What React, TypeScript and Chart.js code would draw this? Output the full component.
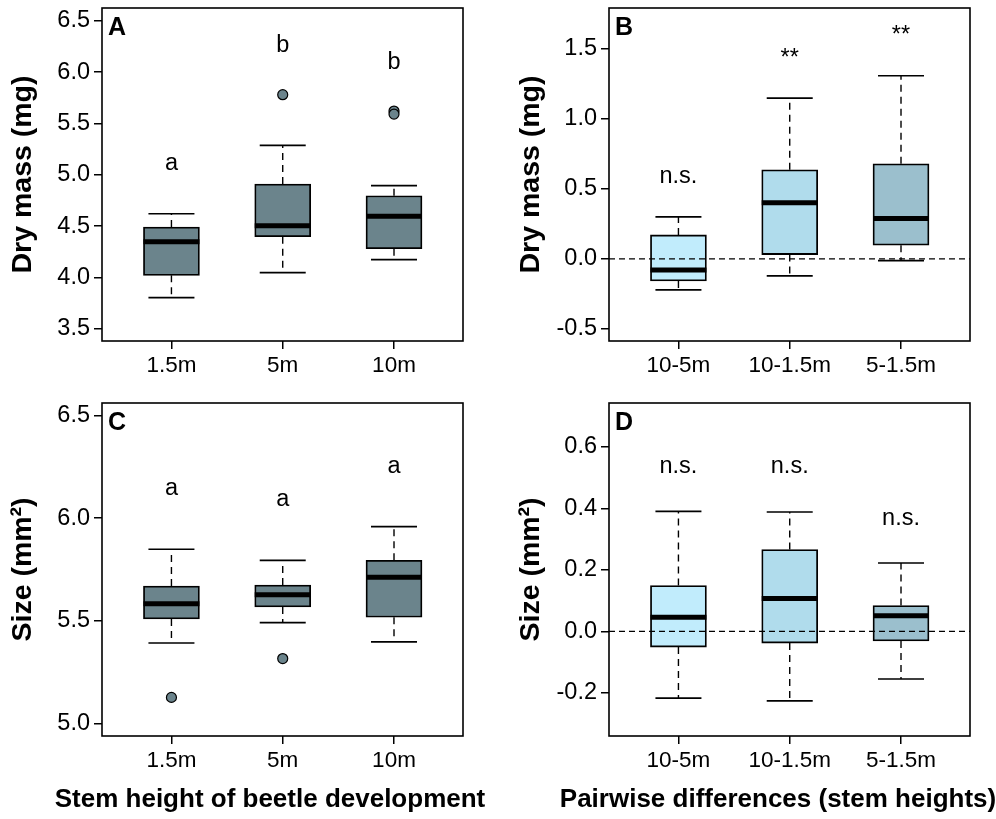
import React, { useEffect, useRef } from 'react';
import { Chart, registerables } from 'chart.js';

Chart.register(...registerables);

const FONT = "'Liberation Sans', Arial, Helvetica, sans-serif";

// ---------- Data ----------
const heightCats = ['1.5m', '5m', '10m'];
const pairCats = ['10-5m', '10-1.5m', '5-1.5m'];

// Panel A: Dry mass (mg)
const aLow = [3.805, 4.048, 4.175];
const aQ1 = [4.022, 4.398, 4.282];
const aMed = [4.350, 4.505, 4.596];
const aQ3 = [4.492, 4.911, 4.797];
const aHigh = [4.622, 5.287, 4.895];
const aOutCat = [2, 3, 3];
const aOutVal = [5.78, 5.621, 5.592];
const aNotes = ['a', 'b', 'b'];
const aNoteY = [5.11, 6.257, 6.091];
const aTicks = [3.5, 4.0, 4.5, 5.0, 5.5, 6.0, 6.5];

// Panel B: pairwise differences dry mass
const bLow = [-0.221, -0.121, -0.012];
const bQ1 = [-0.157, 0.031, 0.098];
const bMed = [-0.079, 0.400, 0.288];
const bQ3 = [0.171, 0.636, 0.679];
const bHigh = [0.300, 1.148, 1.307];
const bNotes = ['n.s.', '**', '**'];
const bNoteY = [0.585, 1.433, 1.595];
const bTicks = [-0.5, 0.0, 0.5, 1.0, 1.5];

// Panel C: Size (mm²)
const cLow = [5.393, 5.492, 5.398];
const cQ1 = [5.510, 5.568, 5.518];
const cMed = [5.584, 5.628, 5.713];
const cQ3 = [5.670, 5.675, 5.795];
const cHigh = [5.849, 5.795, 5.959];
const cOutCat = [1, 2];
const cOutVal = [5.128, 5.317];
const cNotes = ['a', 'a', 'a'];
const cNoteY = [6.146, 6.093, 6.252];
const cTicks = [5.0, 5.5, 6.0, 6.5];

// Panel D: pairwise differences size
const dLow = [-0.217, -0.226, -0.155];
const dQ1 = [-0.051, -0.038, -0.031];
const dMed = [0.046, 0.107, 0.051];
const dQ3 = [0.149, 0.266, 0.084];
const dHigh = [0.390, 0.388, 0.222];
const dNotes = ['n.s.', 'n.s.', 'n.s.'];
const dNoteY = [0.536, 0.536, 0.368];
const dTicks = [-0.2, 0.0, 0.2, 0.4, 0.6];

// ---------- Styles ----------
const GREY = '#6b848c';
const PAIR_FILLS = ['#c1ecfc', '#b0dcec', '#9bbfcd'];
const BOX_W = 56;
const STAPLE_W = 46;

type Panel = {
  letter: string;
  cats: string[];
  lo: number[]; q1: number[]; med: number[]; q3: number[]; hi: number[];
  outCat: number[]; outVal: number[];
  fills: string[];
  notes: string[]; noteY: number[];
  yMin: number; yMax: number; yTicks: number[];
  yTitle: string;
  zeroLine: boolean;
  xTitle?: string;
  xTitleX?: number; xTitleY?: number;
  left: number; top: number; width: number; height: number;
  padTop: number; padRight: number; yAxisW: number; xAxisH: number; titlePad: number;
};

const panels: Panel[] = [
  {
    letter: 'A', cats: heightCats, lo: aLow, q1: aQ1, med: aMed, q3: aQ3, hi: aHigh,
    outCat: aOutCat, outVal: aOutVal, fills: [GREY, GREY, GREY], notes: aNotes, noteY: aNoteY,
    yMin: 3.383, yMax: 6.624, yTicks: aTicks, yTitle: 'Dry mass (mg)', zeroLine: false,
    left: 0, top: 0, width: 498, height: 395, padTop: 8, padRight: 35, yAxisW: 102, xAxisH: 54, titlePad: 6,
  },
  {
    letter: 'B', cats: pairCats, lo: bLow, q1: bQ1, med: bMed, q3: bQ3, hi: bHigh,
    outCat: [], outVal: [], fills: PAIR_FILLS, notes: bNotes, noteY: bNoteY,
    yMin: -0.586, yMax: 1.791, yTicks: bTicks, yTitle: 'Dry mass (mg)', zeroLine: true,
    left: 498, top: 0, width: 498, height: 395, padTop: 8, padRight: 26, yAxisW: 111, xAxisH: 54, titlePad: 16,
  },
  {
    letter: 'C', cats: heightCats, lo: cLow, q1: cQ1, med: cMed, q3: cQ3, hi: cHigh,
    outCat: cOutCat, outVal: cOutVal, fills: [GREY, GREY, GREY], notes: cNotes, noteY: cNoteY,
    yMin: 4.94, yMax: 6.561, yTicks: cTicks, yTitle: 'Size (mm²)', zeroLine: false,
    xTitle: 'Stem height of beetle development', xTitleX: 270, xTitleY: 405,
    left: 0, top: 395, width: 498, height: 424, padTop: 8, padRight: 35, yAxisW: 102, xAxisH: 83, titlePad: 6,
  },
  {
    letter: 'D', cats: pairCats, lo: dLow, q1: dQ1, med: dMed, q3: dQ3, hi: dHigh,
    outCat: [], outVal: [], fills: PAIR_FILLS, notes: dNotes, noteY: dNoteY,
    yMin: -0.340, yMax: 0.742, yTicks: dTicks, yTitle: 'Size (mm²)', zeroLine: true,
    xTitle: 'Pairwise differences (stem heights)', xTitleX: 280, xTitleY: 405,
    left: 498, top: 395, width: 498, height: 424, padTop: 8, padRight: 26, yAxisW: 111, xAxisH: 83, titlePad: 16,
  },
];

function makePlugin(p: Panel) {
  return {
    id: 'boxExtras' + p.letter,
    afterDatasetsDraw(chart: any) {
      const ctx = chart.ctx as CanvasRenderingContext2D;
      const xs = chart.scales.x;
      const ys = chart.scales.y;
      const area = chart.chartArea;
      ctx.save();
      ctx.strokeStyle = '#000';
      for (let i = 0; i < p.cats.length; i++) {
        const x = xs.getPixelForValue(i + 1);
        const yLo = ys.getPixelForValue(p.lo[i]);
        const yQ1 = ys.getPixelForValue(p.q1[i]);
        const yMed = ys.getPixelForValue(p.med[i]);
        const yQ3 = ys.getPixelForValue(p.q3[i]);
        const yHi = ys.getPixelForValue(p.hi[i]);
        // whiskers
        ctx.lineWidth = 1.4;
        ctx.setLineDash([7, 5]);
        ctx.beginPath();
        ctx.moveTo(x, yQ3); ctx.lineTo(x, yHi);
        ctx.moveTo(x, yQ1); ctx.lineTo(x, yLo);
        ctx.stroke();
        // staples
        ctx.setLineDash([]);
        ctx.lineWidth = 1.6;
        ctx.beginPath();
        ctx.moveTo(x - STAPLE_W / 2, yHi); ctx.lineTo(x + STAPLE_W / 2, yHi);
        ctx.moveTo(x - STAPLE_W / 2, yLo); ctx.lineTo(x + STAPLE_W / 2, yLo);
        ctx.stroke();
        // median
        ctx.lineWidth = 5;
        ctx.beginPath();
        ctx.moveTo(x - BOX_W / 2, yMed); ctx.lineTo(x + BOX_W / 2, yMed);
        ctx.stroke();
      }
      if (p.zeroLine) {
        const y0 = ys.getPixelForValue(0);
        ctx.lineWidth = 1.4;
        ctx.setLineDash([6, 4]);
        ctx.beginPath();
        ctx.moveTo(area.left, y0); ctx.lineTo(area.right, y0);
        ctx.stroke();
        ctx.setLineDash([]);
      }
      // frame
      ctx.lineWidth = 1.6;
      ctx.strokeRect(area.left, area.top, area.right - area.left, area.bottom - area.top);
      // notes
      ctx.fillStyle = '#000';
      ctx.textAlign = 'center';
      ctx.textBaseline = 'middle';
      ctx.font = `23.5px ${FONT}`;
      for (let i = 0; i < p.notes.length; i++) {
        ctx.fillText(p.notes[i], xs.getPixelForValue(i + 1), ys.getPixelForValue(p.noteY[i]));
      }
      // panel letter
      ctx.font = `bold 25px ${FONT}`;
      ctx.textAlign = 'left';
      ctx.textBaseline = 'alphabetic';
      ctx.fillText(p.letter, area.left + 6, area.top + 27);
      // bottom title
      if (p.xTitle) {
        ctx.font = `bold 26px ${FONT}`;
        ctx.textAlign = 'center';
        ctx.textBaseline = 'middle';
        ctx.fillText(p.xTitle, p.xTitleX as number, p.xTitleY as number);
      }
      ctx.restore();
    },
  };
}

function PanelChart({ p }: { p: Panel }) {
  const ref = useRef<HTMLCanvasElement | null>(null);
  useEffect(() => {
    if (!ref.current) return;
    const chart = new Chart(ref.current, {
      type: 'bar',
      data: {
        datasets: [
          {
            type: 'bar',
            data: p.cats.map((_, i) => ({ x: i + 1, y: [p.q1[i], p.q3[i]] })) as any,
            backgroundColor: p.fills,
            borderColor: '#000',
            borderWidth: 1.8,
            borderSkipped: false,
            barThickness: BOX_W,
            order: 2,
          } as any,
          {
            type: 'scatter',
            data: p.outCat.map((c, i) => ({ x: c, y: p.outVal[i] })),
            pointRadius: 5,
            pointHoverRadius: 5,
            backgroundColor: GREY,
            borderColor: '#000',
            borderWidth: 1.2,
            order: 1,
          } as any,
        ],
      },
      options: {
        animation: false,
        responsive: false,
        maintainAspectRatio: false,
        devicePixelRatio: 1,
        layout: { padding: { top: p.padTop, right: p.padRight, left: 0, bottom: 0 } },
        plugins: { legend: { display: false }, tooltip: { enabled: false } },
        scales: {
          x: {
            type: 'linear',
            min: 0.376,
            max: 3.62,
            offset: false,
            afterBuildTicks: (s: any) => { s.ticks = p.cats.map((_, i) => ({ value: i + 1 })); },
            afterFit: (s: any) => {
              s.height = p.xAxisH;
              s.paddingLeft = 0;
              s.paddingRight = 0;
            },
            ticks: {
              callback: (v: any) => p.cats[Math.round(Number(v)) - 1] ?? '',
              font: { family: FONT, size: 22.5 },
              color: '#000',
              padding: 3,
              maxRotation: 0,
              autoSkip: false,
            },
            grid: { offset: false, drawOnChartArea: false, tickLength: 8, color: '#000', lineWidth: 1.5 },
            border: { display: false },
          },
          y: {
            type: 'linear',
            min: p.yMin,
            max: p.yMax,
            afterBuildTicks: (s: any) => { s.ticks = p.yTicks.map((v) => ({ value: v })); },
            afterFit: (s: any) => {
              s.width = p.yAxisW;
              s.paddingTop = 0;
              s.paddingBottom = 0;
            },
            ticks: {
              callback: (v: any) => Number(v).toFixed(1),
              font: { family: FONT, size: 23.5 },
              color: '#000',
              padding: 4,
              autoSkip: false,
            },
            grid: { drawOnChartArea: false, tickLength: 8, color: '#000', lineWidth: 1.5 },
            border: { display: false },
            title: {
              display: true,
              text: p.yTitle,
              font: { family: FONT, size: 28.5, weight: 'bold' },
              color: '#000',
              padding: { top: p.titlePad, bottom: 0 },
            },
          },
        },
      } as any,
      plugins: [makePlugin(p)],
    });
    return () => chart.destroy();
  }, [p]);
  return (
    <canvas
      ref={ref}
      width={p.width}
      height={p.height}
      style={{ position: 'absolute', left: p.left, top: p.top, width: p.width, height: p.height }}
    />
  );
}

export default function App() {
  return (
    <div style={{ position: 'absolute', left: 0, top: 0, width: 996, height: 819, background: '#fff' }}>
      {panels.map((p) => (
        <PanelChart key={p.letter} p={p} />
      ))}
    </div>
  );
}
